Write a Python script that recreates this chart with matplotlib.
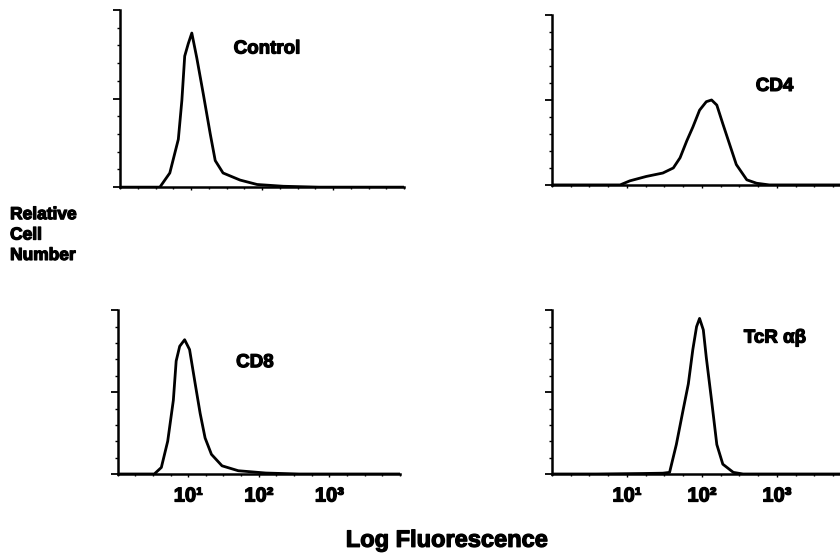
import matplotlib
matplotlib.use("Agg")
import matplotlib.pyplot as plt
import matplotlib.patheffects as pe
from matplotlib.ticker import MultipleLocator

plt.rcParams['font.family'] = ['Liberation Sans', 'DejaVu Sans']
plt.rcParams['font.weight'] = 'bold'

# histogram traces: log10 fluorescence vs relative cell number (peak-normalised to panel height)
control_x = [0.0, 0.4, 0.56, 0.7, 0.82, 0.87, 0.91, 0.96, 1.01, 1.08, 1.17, 1.27, 1.34, 1.45, 1.69, 1.93, 2.3, 2.8, 3.3, 4.0]
control_y = [0.0, 0.0, 0.0, 0.08, 0.27, 0.49, 0.74, 0.81, 0.87, 0.73, 0.53, 0.30, 0.15, 0.08, 0.04, 0.015, 0.005, 0.0, 0.0, 0.0]

cd4_x = [0.0, 0.5, 0.91, 1.04, 1.26, 1.48, 1.62, 1.71, 1.80, 1.88, 1.97, 2.06, 2.13, 2.20, 2.28, 2.37, 2.46, 2.60, 2.73, 2.9, 3.5, 4.0]
cd4_y = [0.0, 0.0, 0.0, 0.024, 0.05, 0.07, 0.10, 0.16, 0.26, 0.34, 0.44, 0.49, 0.50, 0.47, 0.36, 0.24, 0.12, 0.03, 0.01, 0.0, 0.0, 0.0]

cd8_x = [0.0, 0.3, 0.52, 0.62, 0.71, 0.79, 0.83, 0.88, 0.95, 1.02, 1.10, 1.17, 1.24, 1.33, 1.48, 1.71, 2.1, 2.57, 3.2, 4.0]
cd8_y = [0.0, 0.0, 0.0, 0.04, 0.20, 0.45, 0.69, 0.78, 0.82, 0.76, 0.55, 0.37, 0.22, 0.12, 0.05, 0.02, 0.006, 0.0, 0.0, 0.0]

tcr_x = [0.0, 0.6, 1.2, 1.48, 1.57, 1.66, 1.75, 1.82, 1.88, 1.93, 1.97, 2.02, 2.06, 2.13, 2.20, 2.28, 2.42, 2.55, 3.2, 4.0]
tcr_y = [0.0, 0.0, 0.003, 0.005, 0.01, 0.18, 0.39, 0.55, 0.76, 0.90, 0.95, 0.88, 0.71, 0.45, 0.18, 0.06, 0.01, 0.0, 0.0, 0.0]

tick_pos = [1, 2, 3]
tick_labels = ['10¹', '10²', '10³']

panels = [
    # (rect, x, y, label, label_xy, show_ticks)
    ([0.143, 0.664, 0.338, 0.318], control_x, control_y, 'Control', (0.40, 0.78), False),
    ([0.657, 0.668, 0.357, 0.305], cd4_x, cd4_y, 'CD4', (0.68, 0.58), False),
    ([0.140, 0.149, 0.336, 0.294], cd8_x, cd8_y, 'CD8', (0.42, 0.68), True),
    ([0.657, 0.149, 0.357, 0.294], tcr_x, tcr_y, 'TcR αβ', (0.64, 0.83), True),
]

heavy = [pe.withStroke(linewidth=0.9, foreground='black')]

fig = plt.figure(figsize=(8.4, 5.57), dpi=100)

for rect, xs, ys, name, (tx, ty), show in panels:
    ax = fig.add_axes(rect)
    ax.plot(xs, ys, color='black', lw=2.0, solid_joinstyle='round')
    ax.set_xlim(0, 4)
    ax.set_ylim(0, 1)
    for s in ['top', 'right']:
        ax.spines[s].set_visible(False)
    for s in ['left', 'bottom']:
        ax.spines[s].set_linewidth(1.8)
    ax.yaxis.set_major_locator(MultipleLocator(0.5))
    ax.yaxis.set_minor_locator(MultipleLocator(0.1))
    ax.tick_params(axis='y', which='major', length=5, width=1.3, labelleft=False)
    ax.tick_params(axis='y', which='minor', length=2.5, width=1.0)
    ax.set_xticks(tick_pos)
    ax.xaxis.set_minor_locator(MultipleLocator(0.25))
    ax.tick_params(axis='x', which='minor', length=1.5, width=1.0)
    if show:
        ax.set_xticklabels(tick_labels, fontsize=14.5, fontweight='bold')
        for lab in ax.get_xticklabels():
            lab.set_path_effects(heavy)
        ax.tick_params(axis='x', which='major', length=2, width=1.0, pad=7)
    else:
        ax.tick_params(axis='x', which='major', length=2, width=1.0, labelbottom=False)
    ax.text(tx, ty, name, transform=ax.transAxes, fontsize=13.5, fontweight='bold',
            ha='left', va='center', path_effects=heavy)

fig.text(0.012, 0.578, 'Relative\nCell\nNumber', fontsize=12.5, fontweight='bold',
         ha='left', va='center', linespacing=1.45, path_effects=heavy)
fig.text(0.532, 0.03, 'Log Fluorescence', fontsize=17, fontweight='bold',
         ha='center', va='center', path_effects=heavy)

fig.savefig('out.png', dpi=100)
